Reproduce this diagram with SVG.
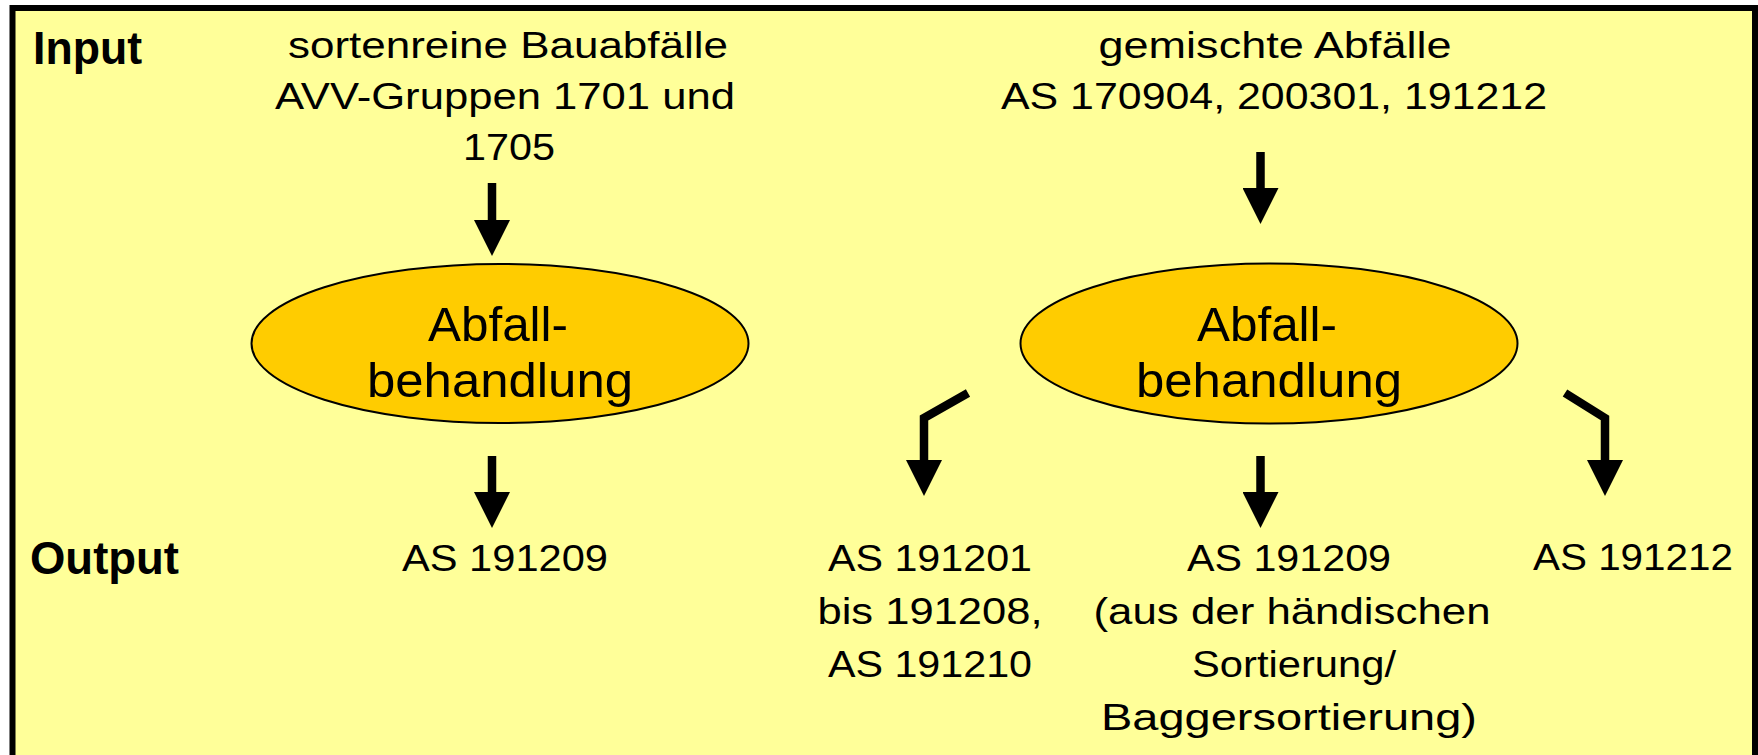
<svg xmlns="http://www.w3.org/2000/svg" width="1758" height="755" viewBox="0 0 1758 755">
<style>
.t{font-family:"Liberation Sans",Arial,sans-serif;font-size:37px;fill:#000;text-anchor:middle}
.h{font-family:"Liberation Sans",Arial,sans-serif;font-size:47px;font-weight:bold;fill:#000}
.e{font-family:"Liberation Sans",Arial,sans-serif;font-size:48px;fill:#000;text-anchor:middle}
.node ellipse{fill:#FFCC00;stroke:#000;stroke-width:2}
.c{fill:none;stroke:#000;stroke-width:8.5;stroke-linejoin:miter;stroke-linecap:butt}
</style>
<defs>
<marker id="ah" markerUnits="userSpaceOnUse" markerWidth="36" markerHeight="36" refX="0" refY="18" orient="auto" viewBox="0 0 36 36">
<path d="M0,0 L36,18 L0,36 z" fill="#000"/>
</marker>
</defs>
<rect x="0" y="0" width="1758" height="755" fill="#fff"/>
<rect id="frame" x="12.5" y="8" width="1742.5" height="800" fill="#FFFF99" stroke="#000" stroke-width="6"/>
<g id="labels">
<text class="h" x="33" y="64" textLength="109" lengthAdjust="spacingAndGlyphs">Input</text>
<text class="h" x="30" y="574" textLength="149" lengthAdjust="spacingAndGlyphs">Output</text>
</g>
<g id="input1">
<text class="t" x="508" y="58" textLength="440" lengthAdjust="spacingAndGlyphs">sortenreine Bauabfälle</text>
<text class="t" x="505" y="109" textLength="460" lengthAdjust="spacingAndGlyphs">AVV-Gruppen 1701 und</text>
<text class="t" x="509" y="160" textLength="92" lengthAdjust="spacingAndGlyphs">1705</text>
</g>
<g id="input2">
<text class="t" x="1275" y="58" textLength="353" lengthAdjust="spacingAndGlyphs">gemischte Abfälle</text>
<text class="t" x="1274" y="109" textLength="546" lengthAdjust="spacingAndGlyphs">AS 170904, 200301, 191212</text>
</g>
<g id="process1" class="node">
<ellipse cx="500" cy="343.5" rx="248.5" ry="79.5"/>
<text class="e" x="498" y="341" textLength="140" lengthAdjust="spacingAndGlyphs">Abfall-</text>
<text class="e" x="500" y="397" textLength="266" lengthAdjust="spacingAndGlyphs">behandlung</text>
</g>
<g id="process2" class="node">
<ellipse cx="1269" cy="343.5" rx="248.5" ry="80"/>
<text class="e" x="1267" y="341" textLength="140" lengthAdjust="spacingAndGlyphs">Abfall-</text>
<text class="e" x="1269" y="397" textLength="266" lengthAdjust="spacingAndGlyphs">behandlung</text>
</g>
<g id="output1">
<text class="t" x="505" y="571" textLength="206" lengthAdjust="spacingAndGlyphs">AS 191209</text>
</g>
<g id="output2">
<text class="t" x="930" y="571" textLength="204" lengthAdjust="spacingAndGlyphs">AS 191201</text>
<text class="t" x="930" y="624" textLength="225" lengthAdjust="spacingAndGlyphs">bis 191208,</text>
<text class="t" x="930" y="677" textLength="204" lengthAdjust="spacingAndGlyphs">AS 191210</text>
</g>
<g id="output3">
<text class="t" x="1289" y="571" textLength="204" lengthAdjust="spacingAndGlyphs">AS 191209</text>
<text class="t" x="1292" y="624" textLength="397" lengthAdjust="spacingAndGlyphs">(aus der händischen</text>
<text class="t" x="1294" y="677" textLength="204" lengthAdjust="spacingAndGlyphs">Sortierung/</text>
<text class="t" x="1289" y="730" textLength="376" lengthAdjust="spacingAndGlyphs">Baggersortierung)</text>
</g>
<g id="output4">
<text class="t" x="1633" y="570" textLength="200" lengthAdjust="spacingAndGlyphs">AS 191212</text>
</g>
<g id="connectors">
<path class="c" d="M492,183 V220" marker-end="url(#ah)"/>
<path class="c" d="M1260.5,152 V188" marker-end="url(#ah)"/>
<path class="c" d="M492,456 V492" marker-end="url(#ah)"/>
<path class="c" d="M1260.5,456 V492" marker-end="url(#ah)"/>
<path class="c" d="M968,393 L924,418 V460" marker-end="url(#ah)"/>
<path class="c" d="M1565,393 L1605,418 V460" marker-end="url(#ah)"/>
</g>
</svg>
